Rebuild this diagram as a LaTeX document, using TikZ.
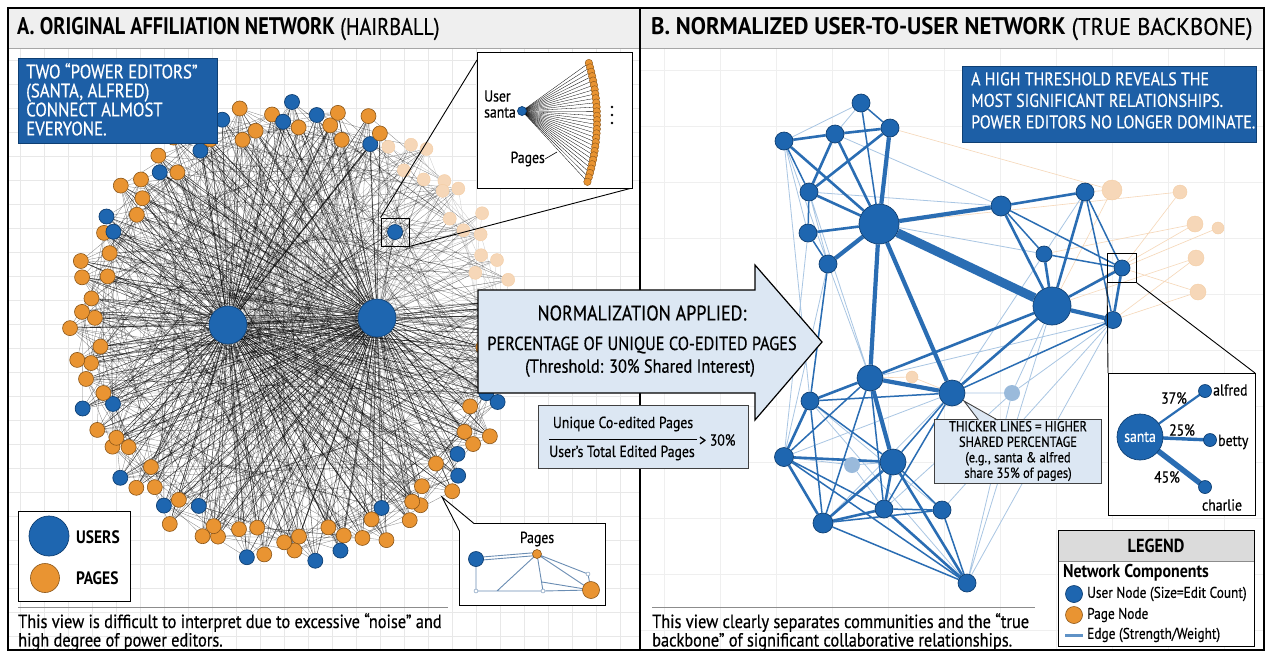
\documentclass[tikz,border=0pt]{standalone}
\usepackage{fontspec}
\setmainfont{PT Sans}[FakeStretch=0.86, UprightFeatures={FakeBold=0.5}]
\usetikzlibrary{calc}
\pgfdeclarelayer{back}
\pgfdeclarelayer{edges}
\pgfsetlayers{back,edges,main}
\definecolor{ublue}{HTML}{1E66B0}
\definecolor{ubluedark}{HTML}{0E3F73}
\definecolor{porange}{HTML}{E99432}
\definecolor{porangedark}{HTML}{8A5518}
\definecolor{fadeor}{HTML}{F6D7B8}
\definecolor{callblue}{HTML}{1D5FA6}
\definecolor{arrowfill}{HTML}{DCE7F3}
\definecolor{headgray}{HTML}{EFEFEF}
\definecolor{gridc}{HTML}{E8E8E8}
\definecolor{edgeblue}{HTML}{2A6DB3}
\definecolor{lightedge}{HTML}{A9C6E3}
\definecolor{steel}{HTML}{6A8DB3}
\begin{document}
\begin{tikzpicture}[x=1pt,y=-1pt,
  user/.style={circle,fill=ublue,draw=ubluedark,line width=0.7pt,inner sep=0pt,minimum size=#1},
  page/.style={circle,fill=porange,draw=porangedark,line width=0.6pt,inner sep=0pt,minimum size=#1},
  fpage/.style={circle,fill=fadeor,draw=fadeor!85!porange,line width=0.4pt,inner sep=0pt,minimum size=#1},
  fuser/.style={circle,fill=ublue!45,draw=none,inner sep=0pt,minimum size=#1},
  hair/.style={black,line width=0.45pt,opacity=0.8},
  fhair/.style={black!22,line width=0.3pt},
  chord/.style={black,line width=0.3pt,opacity=0.5},
  heavy/.style={edgeblue,line width=9pt},
  strong/.style={edgeblue,line width=4.2pt},
  med/.style={edgeblue,line width=2.6pt},
  thin/.style={edgeblue,line width=1.5pt},
  faint/.style={lightedge,line width=0.8pt},
  ofaint/.style={fadeor,line width=0.6pt},
  txt/.style={inner sep=0pt,text=black},
  callout/.style={fill=callblue,draw=ubluedark,line width=1pt,anchor=north west},
  ctext/.style={inner sep=0pt,text=white,anchor=north west,align=left},
  lightbox/.style={fill=arrowfill,draw=black!75,line width=0.9pt},
  framebox/.style={draw=black,fill=white,line width=1pt,inner sep=0pt}
]
\useasboundingbox (0,0) rectangle (1270,657);
\begin{pgfonlayer}{back}
  \fill[white] (0,0) rectangle (1270,657);
  \foreach \x in {20,44,...,620} \draw[gridc,line width=0.6pt] (\x,48) -- (\x,650);
  \foreach \y in {60,84,...,640} \draw[gridc,line width=0.6pt] (8,\y) -- (640,\y);
  \foreach \x in {664,720,...,1256} \draw[gridc!70,line width=0.6pt] (\x,48) -- (\x,650);
  \foreach \y in {70,126,...,640} \draw[gridc!70,line width=0.6pt] (640,\y) -- (1264,\y);
  \fill[headgray] (8,8) rectangle (1264,48);
  \draw[black!35,line width=0.8pt] (8,48) -- (1264,48);
\end{pgfonlayer}

% ---------- headers ----------
\node[txt,anchor=west,font=\fontsize{24}{28}\selectfont] (hA) at (17,29) {\scalebox{0.98}[1]{\textbf{A. ORIGINAL AFFILIATION NETWORK} (HAIRBALL)}};
\node[txt,anchor=west,font=\fontsize{24}{28}\selectfont] (hB) at (651,29) {\scalebox{1.1}[1]{\textbf{B. NORMALIZED USER-TO-USER NETWORK} (TRUE BACKBONE)}};

% ---------- hairball ----------
\node[user=38] (h1) at (228,325) {};
\node[user=38] (h2) at (377,318) {};
\foreach \i in {0,...,111}{
  \pgfmathsetmacro{\a}{90-\i*3.2142857+1.3*sin(\i*97)}
  \pgfmathsetmacro{\rf}{1-0.085*mod(\i,2)-0.025*mod(\i*7,3)}
  \pgfmathtruncatemacro{\am}{mod(\a+720,360)}
  \pgfmathtruncatemacro{\fd}{and(\am>8,\am<64)}
  \pgfmathtruncatemacro{\bl}{mod(\i*7+\i*\i/9,13)<3}
  \ifnum\fd=1
    \node[fpage=13] (n\i) at ({292+222*\rf*cos(\a)},{332-230*\rf*sin(\a)}) {};
  \else\ifnum\bl=1
    \node[user=15] (n\i) at ({292+222*\rf*cos(\a)},{332-230*\rf*sin(\a)}) {};
  \else
    \node[page=15] (n\i) at ({292+222*\rf*cos(\a)},{332-230*\rf*sin(\a)}) {};
  \fi\fi
}
\node[user=15] (hl) at (395,232) {};
\node[draw=black,line width=0.9pt,minimum size=28,inner sep=0pt] (hlbox) at (395,232) {};
\begin{pgfonlayer}{edges}
  \draw[hair] (h1) -- (h2) (h1) -- (hl) (h2) -- (hl);
  \foreach \i in {0,...,111}{
    \pgfmathsetmacro{\a}{90-\i*3.2142857+1.3*sin(\i*97)}
    \pgfmathtruncatemacro{\am}{mod(\a+720,360)}
    \pgfmathtruncatemacro{\fd}{and(\am>8,\am<64)}
    \pgfmathtruncatemacro{\j}{mod(\i+17+mod(\i*13,40),112)}
    \pgfmathtruncatemacro{\k}{mod(\i+45+mod(\i*7,30),112)}
    \pgfmathtruncatemacro{\m}{mod(\i+5+mod(\i*5,9),112)}
    \pgfmathtruncatemacro{\p}{mod(\i+50+mod(\i*11,14),112)}
    \pgfmathtruncatemacro{\q}{mod(\i+28+mod(\i*3,20),112)}
    \ifnum\fd=1
      \draw[fhair] (h1) -- (n\i) (h2) -- (n\i) (n\i) -- (n\m);
    \else
      \draw[hair] (h1) -- (n\i) (h2) -- (n\i);
      \draw[chord] (n\i) -- (n\j) (n\i) -- (n\k) (n\i) -- (n\m) (n\i) -- (n\p) (n\i) -- (n\q);
    \fi
  }
\end{pgfonlayer}

% callout A
\node[callout,minimum width=199,minimum height=85] (callA) at (18,58) {};
\node[ctext,font=\fontsize{19.5}{19}\selectfont] (callAt) at (26,63) {TWO “POWER EDITORS”\\(SANTA, ALFRED)\\CONNECT ALMOST\\EVERYONE.};

% inset santa fan
\coordinate (zA) at (477,60);
\coordinate (zB) at (632,188);
\draw[black,line width=0.9pt] (hlbox.north west) -- (zA);
\draw[black,line width=0.9pt] (hlbox.south east) -- (zB);
\node[framebox,minimum width=155,minimum height=136] (ins1) at (554.5,120) {};
\coordinate (su) at (522,111);
\foreach \k in {0,...,27}{
  \pgfmathsetmacro{\yy}{63+\k*4.4}
  \pgfmathsetmacro{\xx}{597-0.0025*(\yy-120)^2}
  \coordinate (fc\k) at (\xx,\yy);
  \draw[black,line width=0.3pt] (su) -- (fc\k);
}
\foreach \k in {0,...,27}{
  \node[page=7.5,line width=0.4pt] (fp\k) at (fc\k) {};
}
\node[user=9] (sun) at (su) {};
\node[txt,anchor=east,align=left,font=\fontsize{16}{16}\selectfont] (ulab) at (516,104) {User\\santa};
\node[txt,anchor=east,font=\fontsize{16}{16}\selectfont] (plab) at (545,159) {Pages};
\draw[black,line width=0.6pt] (plab.east) -- (557,152);
\fill (612,107) circle (1.4) (612,115) circle (1.4) (612,123) circle (1.4);

% left legend
\node[framebox,minimum width=112,minimum height=90] (lgA) at (74,556) {};
\node[user=40] (lgu) at (49,536) {};
\node[page=29] (lgp) at (45,578) {};
\node[txt,anchor=west,font=\bfseries\fontsize{18}{20}\selectfont] (lguT) at (76,537) {USERS};
\node[txt,anchor=west,font=\bfseries\fontsize{18}{20}\selectfont] (lgpT) at (76,578) {PAGES};

% bottom left inset
\node[framebox,minimum width=146,minimum height=82] (ins2) at (532,564) {};
\fill[white] (459.6,531) -- (442,497) -- (474,523.6) -- cycle;
\draw[black,line width=0.9pt] (459.5,531) -- (442,497) -- (474,523.5);
\node[txt,font=\fontsize{16}{16}\selectfont] (pg2) at (537,539) {Pages};
\coordinate (bu) at (476,559);
\coordinate (op) at (537,554);
\coordinate (ob) at (591,590);
\coordinate (g1) at (476,591);
\coordinate (g2) at (543,591);
\coordinate (g3) at (588,574);
\coordinate (g4) at (497,591);
\coordinate (g5) at (542,582);
\draw[steel,line width=0.9pt] ([yshift=-1.5]bu) -- ([yshift=-1.5]op) ([yshift=1.5]bu) -- ([yshift=1.5]op)
  (bu) -- (g1) -- (g2) -- (ob) (op) -- (g4) (op) -- (g2) (op) -- (g3) (op) -- (ob) (g5) -- (ob) (g3) -- (ob);
\node[user=15] (bun) at (bu) {};
\node[page=9] (opn) at (op) {};
\node[page=17] (obn) at (ob) {};
\foreach \g in {g1,g2,g3} \node[circle,draw=steel,fill=white,inner sep=0pt,minimum size=4] (\g n) at (\g) {};

% bottom left caption
\draw[black!45,line width=1pt] (18,607) -- (448,607);
\node[txt,anchor=north west,align=left,font=\fontsize{19}{18.5}\selectfont] (capA) at (18,613) {This view is difficult to interpret due to excessive “noise” and\\high degree of power editors.};

% ---------- divider and frame ----------
\draw[black,line width=2.5pt] (640,8) -- (640,650);
\draw[black,line width=1.3pt] (8,8) rectangle (1264,650);

% ---------- central arrow ----------
\filldraw[fill=arrowfill,draw=black,line width=1.2pt,line join=miter]
  (478,290) -- (755,290) -- (755,265) -- (822,342) -- (755,420) -- (755,393) -- (478,393) -- cycle;
\node[txt,font=\fontsize{21}{22}\selectfont] (ar1) at (642,313) {NORMALIZATION APPLIED:};
\node[txt,font=\fontsize{19}{19}\selectfont] (ar2) at (642,345) {PERCENTAGE OF UNIQUE CO-EDITED PAGES};
\node[txt,font=\fontsize{19}{19}\selectfont] (ar3) at (640,368) {(Threshold: 30\% Shared Interest)};
\node[lightbox,minimum width=210,minimum height=63,inner sep=0pt] (fbox) at (643,437) {};
\node[txt,font=\fontsize{16}{16}\selectfont] (num) at (623,424) {Unique Co-edited Pages};
\node[txt,font=\fontsize{16}{16}\selectfont] (den) at (622,453) {User's Total Edited Pages};
\draw[black,line width=0.8pt] (549,439) -- (697,439);
\node[txt,anchor=west,font=\fontsize{16}{16}\selectfont] (gt) at (699,440) {> 30\%};

% ---------- right network ----------
\node[user=40] (A) at (879,224) {};
\node[user=38] (B) at (1052,306) {};
\node[user=18] (t0) at (784,141) {};
\node[user=18] (t1) at (861,103) {};
\node[user=18] (t2) at (835,134) {};
\node[user=18] (t3) at (890,128) {};
\node[user=18] (u1) at (809,192) {};
\node[user=18] (u2) at (808,233) {};
\node[user=18] (u3) at (828,264) {};
\node[user=20] (P) at (1001,206) {};
\node[user=18] (Q) at (1085,192) {};
\node[user=16] (R) at (1044,254) {};
\node[user=16] (S) at (1122,268) {};
\node[user=17] (T) at (1113,320) {};
\node[user=26] (C) at (870,378) {};
\node[user=26] (D) at (952,393) {};
\node[user=18] (E) at (810,401) {};
\node[user=19] (F) at (784,457) {};
\node[user=26] (G) at (893,462) {};
\node[user=18] (H) at (884,509) {};
\node[user=18] (I) at (942,510) {};
\node[user=20] (J) at (823,523) {};
\node[user=18] (K) at (967,583) {};
\node[fuser=16] (f1) at (852,465) {};
\node[fuser=16] (f2) at (1012,393) {};
\node[fpage=20] (o1) at (1112,190) {};
\node[fpage=14] (o2) at (1180,192) {};
\node[fpage=16] (o3) at (1195,224) {};
\node[fpage=12] (o4) at (1218,228) {};
\node[fpage=16] (o5) at (1196,258) {};
\node[fpage=16] (o6) at (1198,292) {};
\node[fpage=12] (o7) at (912,377) {};
\node[draw=black,line width=0.9pt,minimum size=29,inner sep=0pt] (Sbox) at (1122,268) {};
\begin{pgfonlayer}{edges}
  \draw[ofaint] (B) -- (o1) (B) -- (o3) (B) -- (o5) (S) -- (o2) (S) -- (o4) (S) -- (o6) (T) -- (o5) (Q) -- (o1) (R) -- (o3) (T) -- (o6) (C) -- (o7) (o7) -- (D) (A) -- (o2) (t3) -- (o1);
  \draw[faint] (u3) -- (E) (u2) -- (F) (t0) -- (E) (u3) -- (F) (u1) -- (C) (K) -- (T) (K) -- (B) (C) -- (T) (I) -- (T) (D) -- (Q)
     (R) -- (D) (A) -- (R) (t2) -- (P) (E) -- (K) (F) -- (f1) (f1) -- (G) (f2) -- (B) (f2) -- (D) (f2) -- (T) (H) -- (f2)
     (t0) -- (t1) (t0) -- (u2) (t0) -- (u3) (u1) -- (P) (u3) -- (C) (J) -- (D) (E) -- (I) (f1) -- (H) (F) -- (D) (K) -- (f2) (u1) -- (u3) (t2) -- (t1);
  \draw[thin] (t0) -- (u1) (t1) -- (t3) (u1) -- (u2) (u2) -- (u3) (P) -- (R) (Q) -- (S) (Q) -- (T) (R) -- (S)
     (P) -- (S) (D) -- (T) (D) -- (G) (C) -- (F) (C) -- (J) (C) -- (H) (E) -- (G) (E) -- (J) (F) -- (G) (F) -- (H)
     (J) -- (I) (I) -- (K) (H) -- (I) (D) -- (H) (E) -- (D) (G) -- (I) (F) -- (K) (J) -- (K) (u3) -- (E) (t1) -- (A);
  \draw[med] (t0) -- (t2) (t0) -- (A) (t2) -- (t3) (t2) -- (u1) (t2) -- (A) (t3) -- (u1) (A) -- (u1) (A) -- (u2)
     (B) -- (S) (B) -- (P) (B) -- (Q) (B) -- (R) (B) -- (C)
     (B) -- (D) (P) -- (Q) (C) -- (E) (E) -- (F) (F) -- (J) (G) -- (J) (G) -- (K) (H) -- (K) (J) -- (H) (G) -- (H)
     (S) -- (T) (G) -- (F);
  \draw[strong] (A) -- (C) (A) -- (D) (A) -- (P) (B) -- (T) (C) -- (D) (C) -- (G) (A) -- (u3) (A) -- (t3);
  \draw[heavy] (A) -- (B);
\end{pgfonlayer}

% callout B
\node[callout,minimum width=294,minimum height=76] (callB) at (962,66) {};
\node[ctext,font=\fontsize{18.5}{21.5}\selectfont] (callBt) at (971,72) {A HIGH THRESHOLD REVEALS THE\\MOST SIGNIFICANT RELATIONSHIPS.\\POWER EDITORS NO LONGER DOMINATE.};

% thicker lines callout
\node[lightbox,minimum width=167,minimum height=63,align=center,inner sep=2pt,font=\fontsize{14.5}{15.5}\selectfont] (thk) at (1018,451) {THICKER LINES = HIGHER\\SHARED PERCENTAGE\\(e.g., santa \& alfred\\share 35\% of pages)};
\fill[arrowfill] (979,421) -- (964,401) -- (997,421) -- cycle;
\draw[black!75,line width=0.9pt] (978.5,420) -- (964,401) -- (997.5,420);

% right inset
\draw[black,line width=0.9pt] (Sbox.south west) -- (1108,373);
\draw[black,line width=0.9pt] (Sbox.south east) -- (1255,373);
\node[framebox,minimum width=147,minimum height=142] (ins3) at (1181.5,444) {};
\coordinate (sa) at (1140,437);
\coordinate (al) at (1205,391);
\coordinate (be) at (1210,440);
\coordinate (ch) at (1205,487);
\draw[edgeblue,line width=2.2pt] (sa) -- (al);
\draw[edgeblue,line width=3.4pt] (sa) -- (be);
\draw[edgeblue,line width=5.5pt] (sa) -- (ch);
\node[user=46,text=white,font=\fontsize{16}{16}\selectfont] (santa) at (sa) {santa};
\node[user=13] (alfred) at (al) {};
\node[user=13] (betty) at (be) {};
\node[user=13] (charlie) at (ch) {};
\node[txt,anchor=west,font=\fontsize{16}{16}\selectfont] (alT) at (1213,390) {alfred};
\node[txt,anchor=west,font=\fontsize{16}{16}\selectfont] (beT) at (1218,442) {betty};
\node[txt,font=\fontsize{16}{16}\selectfont] (chT) at (1222,505) {charlie};
\node[txt,font=\fontsize{16}{16}\selectfont] (p37) at (1174,398) {37\%};
\node[txt,font=\fontsize{16}{16}\selectfont] (p25) at (1182,430) {25\%};
\node[txt,font=\fontsize{16}{16}\selectfont] (p45) at (1167,477) {45\%};

% right legend
\node[framebox,minimum width=196,minimum height=116] (lgB) at (1156,588) {};
\fill[black!14] (1058.5,530.5) rectangle (1253.5,561);
\draw[black!45,line width=0.6pt] (1058.5,561) -- (1253.5,561);
\node[txt,font=\bfseries\fontsize{19}{20}\selectfont] (lgT) at (1156,546) {LEGEND};
\node[txt,anchor=west,font=\bfseries\fontsize{18.5}{19}\selectfont] (lgNC) at (1063,573) {Network Components};
\node[user=17] (lgUn) at (1074,594) {};
\node[page=17] (lgPn) at (1074,615) {};
\coordinate (le1) at (1065,635);
\coordinate (le2) at (1083,635);
\draw[edgeblue!75,line width=3pt] (le1) -- (le2);
\node[txt,anchor=west,font=\fontsize{15.5}{16}\selectfont] (lgU) at (1087,594) {User Node (Size=Edit Count)};
\node[txt,anchor=west,font=\fontsize{15.5}{16}\selectfont] (lgP) at (1087,615) {Page Node};
\node[txt,anchor=west,font=\fontsize{15.5}{16}\selectfont] (lgE) at (1087,635) {Edge (Strength/Weight)};

% bottom right caption
\draw[black!45,line width=1pt] (652,607) -- (1035,607);
\node[txt,anchor=north west,align=left,font=\fontsize{19}{18.5}\selectfont] (capB) at (652,613) {This view clearly separates communities and the “true\\backbone” of significant collaborative relationships.};
\end{tikzpicture}
\end{document}
